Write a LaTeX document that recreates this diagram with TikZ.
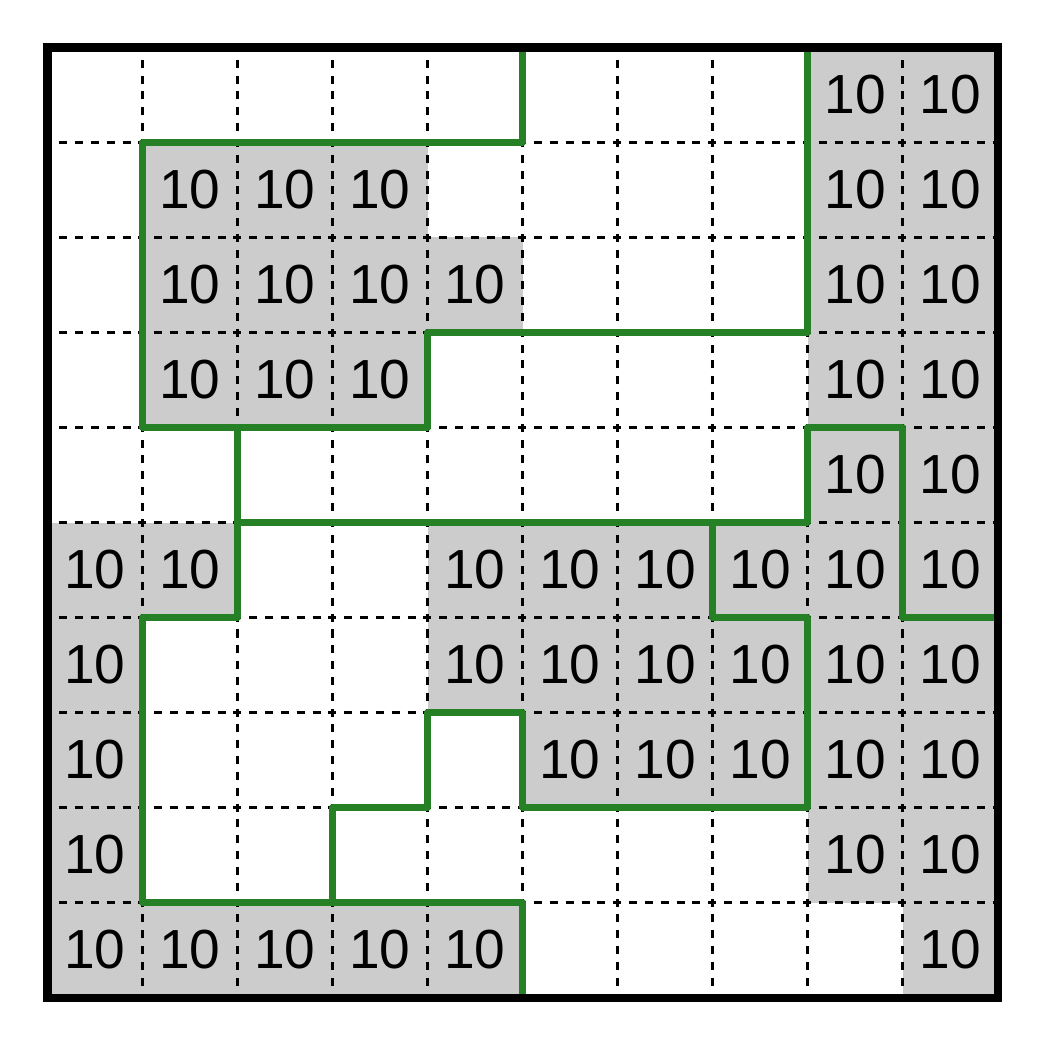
\documentclass[tikz,border=0pt]{standalone}
\usepackage{fontspec}
\setmainfont{Liberation Sans}
\definecolor{wallgreen}{RGB}{38,128,38}
\begin{document}
\begin{tikzpicture}[x=1cm,y=-1cm,
  cellfill/.style={fill=black!20},
  gridline/.style={line width=0.8pt, dash pattern=on 2.4pt off 2.34pt, dash phase=1.2pt, black},
  wall/.style={line width=2pt, draw=wallgreen, line cap=round, line join=round},
  frame/.style={line width=2.4pt, line join=miter, draw=black},
  num/.style={font=\fontsize{16.5}{16.5}\selectfont, inner sep=0pt}]
\useasboundingbox (-0.5,-0.5) rectangle (10.5,10.5);
\foreach \r/\cols in {0/{8,9},1/{1,2,3,8,9},2/{1,2,3,4,8,9},3/{1,2,3,8,9},4/{8,9},5/{0,1,4,5,6,7,8,9},6/{0,4,5,6,7,8,9},7/{0,5,6,7,8,9},8/{0,8,9},9/{0,1,2,3,4,9}}{
  \foreach \c in \cols {
    \fill[cellfill] (\c,\r) rectangle ++(1,1);
  }
}
\draw[gridline] (0,0) grid (10,10);
\foreach \r/\cols in {0/{8,9},1/{1,2,3,8,9},2/{1,2,3,4,8,9},3/{1,2,3,8,9},4/{8,9},5/{0,1,4,5,6,7,8,9},6/{0,4,5,6,7,8,9},7/{0,5,6,7,8,9},8/{0,8,9},9/{0,1,2,3,4,9}}{
  \foreach \c in \cols {
    \node[num] (c\r-\c) at (\c+0.5,\r+0.5) {10};
  }
}
\draw[wall] (5,0) -- (5,1) -- (1,1) -- (1,4) -- (4,4) -- (4,3) -- (8,3) -- (8,0);
\draw[wall] (2,4) -- (2,6) -- (1,6) -- (1,9) -- (5,9) -- (5,10);
\draw[wall] (2,5) -- (8,5) -- (8,4) -- (9,4) -- (9,6) -- (10,6);
\draw[wall] (7,5) -- (7,6) -- (8,6) -- (8,8) -- (5,8) -- (5,7) -- (4,7) -- (4,8) -- (3,8) -- (3,9);
\draw[frame] (0,0) rectangle (10,10);
\end{tikzpicture}
\end{document}
